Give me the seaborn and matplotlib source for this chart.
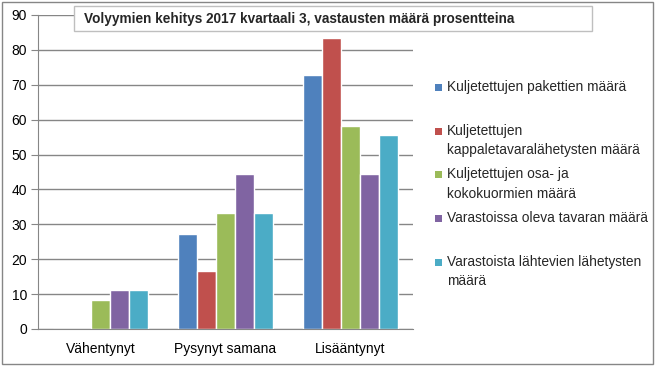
import pandas as pd
import seaborn as sns
import matplotlib.pyplot as plt
from matplotlib.patches import Rectangle

# Data (percent of answers)
categories = ["Vähentynyt", "Pysynyt samana", "Lisääntynyt"]
series = [
    "Kuljetettujen pakettien määrä",
    "Kuljetettujen kappaletavaralähetysten määrä",
    "Kuljetettujen osa- ja kokokuormien määrä",
    "Varastoissa oleva tavaran määrä",
    "Varastoista lähtevien lähetysten määrä",
]
legend_labels = [
    "Kuljetettujen pakettien määrä",
    "Kuljetettujen\nkappaletavaralähetysten määrä",
    "Kuljetettujen osa- ja\nkokokuormien määrä",
    "Varastoissa oleva tavaran määrä",
    "Varastoista lähtevien lähetysten\nmäärä",
]
paketit = [0.0, 27.3, 72.7]
kappaletavara = [0.0, 16.7, 83.3]
kuormat = [8.3, 33.3, 58.3]
varastoissa = [11.1, 44.4, 44.4]
lahtevat = [11.1, 33.3, 55.6]
colors = ["#4F81BD", "#C0504D", "#9BBB59", "#8064A2", "#4BACC6"]

values = [paketit, kappaletavara, kuormat, varastoissa, lahtevat]
rows = []
for s, vals in zip(series, values):
    for c, v in zip(categories, vals):
        rows.append({"Muutos": c, "Sarja": s, "Osuus": v})
df = pd.DataFrame(rows)

sns.set_style("white")
plt.rcParams['font.family'] = ['Liberation Sans', 'DejaVu Sans']

W, H = 656, 368
fig = plt.figure(figsize=(W / 100, H / 100), dpi=100)
ax = fig.add_axes([38 / W, 1 - 329 / H, (413 - 38) / W, (329 - 15) / H])

sns.barplot(
    data=df,
    x="Muutos",
    y="Osuus",
    hue="Sarja",
    hue_order=series,
    order=categories,
    palette=colors,
    width=0.76,
    gap=0,
    saturation=1,
    legend=False,
    ax=ax,
)

grey = "#868686"
ax.set_ylim(0, 90)
ax.set_xlim(-0.5, 2.5)
ax.set_yticks(range(0, 91, 10))
ax.yaxis.grid(True, color=grey, linewidth=1)
ax.set_axisbelow(True)
ax.set_xlabel("")
ax.set_ylabel("")
for side in ["top", "right"]:
    ax.spines[side].set_visible(False)
for side in ["left", "bottom"]:
    ax.spines[side].set_color(grey)
ax.tick_params(axis="y", labelsize=10, colors=grey, labelcolor="black",
               direction="out", length=5, left=True, pad=3)
ax.set_xticks(range(len(categories)))
ax.set_xticklabels(categories)
ax.tick_params(axis="x", labelsize=10, length=0, pad=9, labelcolor="black")
# category boundary ticks
ax.set_xticks([-0.5, 0.5, 1.5, 2.5], minor=True)
ax.tick_params(axis="x", which="minor", direction="out", length=5, colors=grey)

# chart area border
fig.patches.append(Rectangle((2 / W, 1 - 364 / H), 651 / W, 362 / H,
                             transform=fig.transFigure, fill=False,
                             edgecolor=grey, linewidth=1))

# title box
fig.patches.append(Rectangle((74 / W, 1 - 31 / H), (592 - 74) / W, 25 / H,
                             transform=fig.transFigure, facecolor="white",
                             edgecolor="#BFBFBF", linewidth=1, zorder=5))
fig.text(84 / W, 1 - 19 / H,
         "Volyymien kehitys 2017 kvartaali 3, vastausten määrä prosentteina",
         fontsize=9.8, fontweight="bold", va="center", ha="left", zorder=6)

# legend
for i, (lab, col) in enumerate(zip(legend_labels, colors)):
    y = 87 + 43.7 * i
    fig.patches.append(Rectangle((435 / W, 1 - (y + 4) / H), 7 / W, 7 / H,
                                 transform=fig.transFigure, facecolor=col,
                                 edgecolor="none"))
    fig.text(447 / W, 1 - (y - 7) / H, lab, fontsize=9.9, va="top",
             ha="left", linespacing=1.5)

fig.savefig("out.png", dpi=100)
